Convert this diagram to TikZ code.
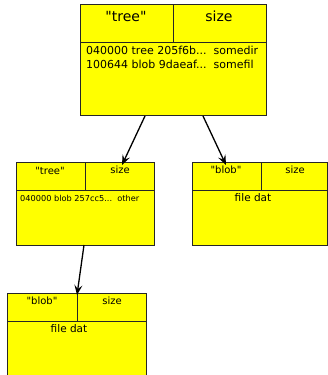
\documentclass[tikz,border=0pt]{standalone}
\usepackage{fontspec}
\setmainfont{DejaVu Sans}
\usetikzlibrary{arrows.meta}
\definecolor{boxyellow}{RGB}{255,255,0}
\begin{document}
\begin{tikzpicture}[x=1pt,y=-1pt,
  box/.style={draw=black!85,fill=boxyellow,line width=0.7pt,anchor=north west,inner sep=0pt},
  divider/.style={draw=black!85,line width=0.7pt},
  txt/.style={inner sep=0pt,text=black},
  link/.style={-{Stealth[length=10pt,width=8pt,inset=4pt]},line width=1.3pt}]
\useasboundingbox (0,0) rectangle (327,375);
% top tree
\node[box,minimum width=186pt,minimum height=111pt] (t) at (80,4) {};
\draw[divider] (80,42) -- (266,42) (173,4) -- (173,42);
\node[txt,font=\fontsize{14}{16}\selectfont] (t1) at (126,16) {\textquotedbl tree\textquotedbl};
\node[txt,font=\fontsize{14}{16}\selectfont] (t2) at (219,16) {size};
\node[txt,font=\fontsize{11}{14}\selectfont,anchor=north west,align=left] (t3) at (86,46) {040000 tree 205f6b...\ \ somedir\\100644 blob 9daeaf...\ \ somefil};
% left tree
\node[box,minimum width=138pt,minimum height=83pt] (l) at (16,162) {};
\draw[divider] (16,190) -- (154,190) (85,162) -- (85,190);
\node[txt,font=\fontsize{10}{12}\selectfont] (l1) at (50,171) {\textquotedbl tree\textquotedbl};
\node[txt,font=\fontsize{10}{12}\selectfont] (l2) at (120,170) {size};
\node[txt,font=\fontsize{8.2}{10}\selectfont,anchor=west] (l3) at (20,198) {040000 blob 257cc5...\ \ other};
% right blob
\node[box,minimum width=135pt,minimum height=83pt] (r) at (192,162) {};
\draw[divider] (192,190) -- (327,190) (261,162) -- (261,190);
\node[txt,font=\fontsize{10}{12}\selectfont] (r1) at (226,170) {\textquotedbl blob\textquotedbl};
\node[txt,font=\fontsize{10}{12}\selectfont] (r2) at (295,170) {size};
\node[txt,font=\fontsize{10.5}{12}\selectfont] (r3) at (253,198) {file dat};
% bottom blob
\node[box,minimum width=139pt,minimum height=90pt] (b) at (7,293) {};
\draw[divider] (7,321) -- (146,321) (77,293) -- (77,321);
\node[txt,font=\fontsize{10}{12}\selectfont] (b1) at (42,301) {\textquotedbl blob\textquotedbl};
\node[txt,font=\fontsize{10}{12}\selectfont] (b2) at (112,301) {size};
\node[txt,font=\fontsize{10.5}{12}\selectfont] (b3) at (69,329) {file dat};
% links
\coordinate (s1) at (145,116);
\coordinate (e1) at (122,165);
\coordinate (s2) at (203,116);
\coordinate (e2) at (226,165);
\coordinate (s3) at (84,245);
\coordinate (e3) at (77,295);
\draw[link] (s1) -- (e1);
\draw[link] (s2) -- (e2);
\draw[link] (s3) -- (e3);
\end{tikzpicture}
\end{document}
